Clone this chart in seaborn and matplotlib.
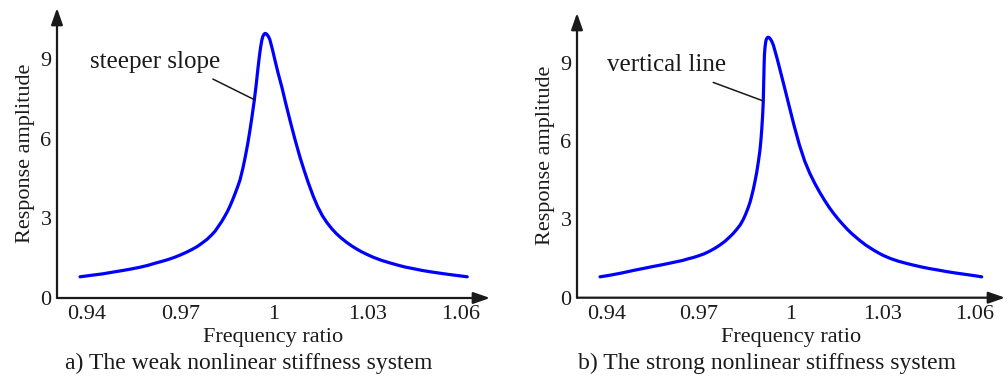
import numpy as np
import pandas as pd
import seaborn as sns
import matplotlib.pyplot as plt

sns.set_style("white")
plt.rcParams['font.family'] = ['Liberation Serif', 'DejaVu Serif']

# weak nonlinear stiffness (left)
freq_weak = [0.9378, 0.9410, 0.9450, 0.9480, 0.9511, 0.9540, 0.9570, 0.9595, 0.9618,
             0.9640, 0.9660, 0.9680, 0.9699, 0.9720, 0.9740, 0.9755, 0.9768, 0.9785,
             0.9800, 0.9811, 0.9821, 0.9832, 0.9842, 0.9851, 0.9859, 0.9867, 0.9875,
             0.9883, 0.9891, 0.9900, 0.9908, 0.9916, 0.9923, 0.9930, 0.9937, 0.9943,
             0.9948, 0.9953, 0.9957, 0.9961, 0.9964, 0.9968, 0.9971, 0.9975, 0.9979,
             0.9983, 0.9987, 0.9995, 1.0003, 1.0014, 1.0025, 1.0038, 1.0051, 1.0067,
             1.0083, 1.0095, 1.0110, 1.0126, 1.0140, 1.0155, 1.0169, 1.0185, 1.0200,
             1.0215, 1.0233, 1.0250, 1.0265, 1.0280, 1.0299, 1.0320, 1.0345, 1.0370,
             1.0394, 1.0420, 1.0450, 1.0475, 1.0501, 1.0530, 1.0560, 1.0590, 1.0620]
amp_weak = [0.80, 0.85, 0.91, 0.97, 1.03, 1.09, 1.16, 1.23, 1.31,
            1.38, 1.45, 1.53, 1.62, 1.73, 1.85, 1.95, 2.06, 2.21,
            2.38, 2.52, 2.69, 2.88, 3.08, 3.27, 3.47, 3.69, 3.93,
            4.18, 4.45, 4.88, 5.33, 5.83, 6.33, 6.88, 7.47, 8.05,
            8.60, 9.10, 9.45, 9.72, 9.86, 9.95, 9.98, 9.97, 9.92,
            9.85, 9.74, 9.38, 8.98, 8.45, 7.97, 7.33, 6.72, 6.00,
            5.33, 4.88, 4.35, 3.84, 3.45, 3.11, 2.86, 2.62, 2.43,
            2.27, 2.10, 1.96, 1.85, 1.75, 1.64, 1.53, 1.42, 1.33,
            1.25, 1.17, 1.10, 1.04, 0.99, 0.94, 0.89, 0.845, 0.80]

# strong nonlinear stiffness (right)
freq_strong = [0.9378, 0.9410, 0.9450, 0.9485, 0.9519, 0.9548, 0.9575, 0.9600, 0.9628,
               0.9648, 0.9665, 0.9682, 0.9698, 0.9717, 0.9735, 0.9752, 0.9769, 0.9785,
               0.9800, 0.9812, 0.9823, 0.9835, 0.9845, 0.9853, 0.9861, 0.9867, 0.9872,
               0.9878, 0.9883, 0.9889, 0.9894, 0.9899, 0.9902, 0.9905, 0.9908, 0.9910,
               0.9911, 0.9912, 0.9913, 0.9914, 0.9916, 0.9918, 0.9920, 0.9923, 0.9926,
               0.9930, 0.9934, 0.9938, 0.9943, 0.9954, 0.9965, 0.9978, 0.9992, 1.0010,
               1.0028, 1.0045, 1.0062, 1.0078, 1.0095, 1.0110, 1.0125, 1.0140, 1.0155,
               1.0170, 1.0185, 1.0200, 1.0225, 1.0245, 1.0269, 1.0285, 1.0301, 1.0325,
               1.0350, 1.0375, 1.0399, 1.0425, 1.0450, 1.0480, 1.0508, 1.0535, 1.0565,
               1.0595, 1.0622]
amp_strong = [0.80, 0.86, 0.95, 1.04, 1.12, 1.19, 1.25, 1.31, 1.38,
              1.43, 1.49, 1.54, 1.60, 1.68, 1.78, 1.89, 2.02, 2.16,
              2.32, 2.46, 2.61, 2.79, 3.00, 3.21, 3.45, 3.66, 3.88,
              4.17, 4.45, 4.82, 5.20, 5.62, 5.97, 6.42, 6.98, 7.48,
              7.98, 8.48, 8.98, 9.33, 9.62, 9.80, 9.90, 9.96, 9.98,
              9.96, 9.90, 9.82, 9.68, 9.22, 8.72, 8.12, 7.46, 6.62,
              5.85, 5.24, 4.76, 4.38, 4.02, 3.73, 3.46, 3.22, 3.00,
              2.80, 2.61, 2.44, 2.19, 2.01, 1.83, 1.72, 1.62, 1.50,
              1.40, 1.32, 1.25, 1.18, 1.12, 1.06, 1.00, 0.95, 0.90,
              0.85, 0.80]

xticks = [0.94, 0.97, 1.00, 1.03, 1.06]
xticklabels = ["0.94", "0.97", "1", "1.03", "1.06"]
yticks = [0, 3, 6, 9]

panels = [
    dict(f=freq_weak, a=amp_weak, rect=[57/1008, 1-298/378, 433/1008, 290/378],
         xlim=(0.9304, 1.0693), ylim=(0, 10.94),
         note="steeper slope", note_xy=(0.9410, 8.9), lead=((0.9804, 8.26), (0.9939, 7.47)),
         caption="a) The weak nonlinear stiffness system", cap_x=249/1008),
    dict(f=freq_strong, a=amp_strong, rect=[577/1008, 1-297.7/378, 428/1008, 284.7/378],
         xlim=(0.9303, 1.0698), ylim=(0, 10.91),
         note="vertical line", note_xy=(0.9400, 8.92), lead=((0.9747, 8.25), (0.9910, 7.54)),
         caption="b) The strong nonlinear stiffness system", cap_x=767/1008),
]

fig = plt.figure(figsize=(10.08, 3.78), dpi=100)
ink = "#1a1a1a"

for p in panels:
    ax = fig.add_axes(p["rect"])
    df = pd.DataFrame({"freq": p["f"], "amp": p["a"]})
    sns.lineplot(data=df, x="freq", y="amp", ax=ax, color="#0000ff", lw=2.3,
                 sort=False, estimator=None)
    ax.set_xlim(*p["xlim"])
    ax.set_ylim(*p["ylim"])
    for s in ax.spines.values():
        s.set_visible(False)
    ax.patch.set_alpha(0)
    # arrowed axes
    for tip in [(1, 0), (0, 1)]:
        ax.annotate("", xy=tip, xytext=(0, 0), xycoords="axes fraction",
                    arrowprops=dict(arrowstyle="-|>,head_length=1.0,head_width=0.35",
                                    color=ink, lw=1.6, shrinkA=0, shrinkB=0))
    ax.set_xticks(xticks)
    ax.set_xticklabels(xticklabels)
    ax.set_yticks(yticks)
    ax.tick_params(direction="in", length=3.5, width=1.0, color=ink,
                   labelsize=16, labelcolor=ink, pad=4)
    ax.tick_params(axis="x", pad=5)
    ax.set_xlabel("Frequency ratio", fontsize=16, color=ink, labelpad=3)
    ax.set_ylabel("Response amplitude", fontsize=16, color=ink, labelpad=4)
    ax.text(p["note_xy"][0], p["note_xy"][1], p["note"], fontsize=18, color=ink,
            ha="left", va="center")
    (x0, y0), (x1, y1) = p["lead"]
    ax.annotate("", xy=(x1, y1), xytext=(x0, y0),
                arrowprops=dict(arrowstyle="-", color=ink, lw=1.1, shrinkA=0, shrinkB=0))
    fig.text(p["cap_x"], 1 - 363/378, p["caption"], fontsize=17, color=ink,
             ha="center", va="center")

fig.savefig("out.png", dpi=100)
